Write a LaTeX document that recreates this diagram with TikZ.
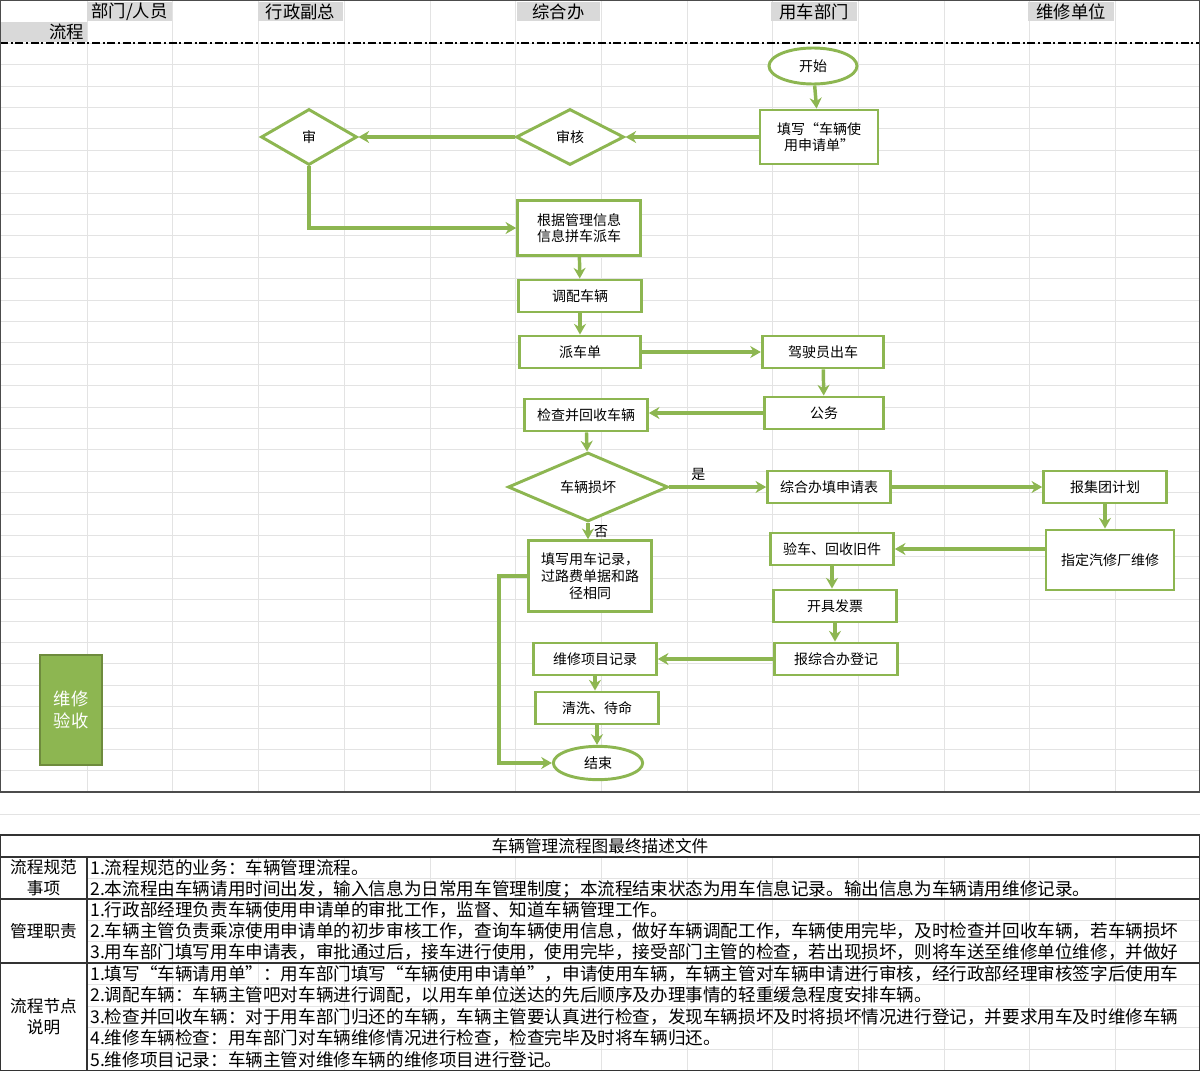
\documentclass[tikz,border=0pt]{standalone}
\usepackage{fontspec}
\setmainfont{Noto Sans CJK SC}
\usepackage{tikz}
\usetikzlibrary{shapes.geometric,arrows.meta}
\definecolor{flowgreen}{HTML}{8DB651}
\definecolor{darkgreen}{HTML}{6E8B3D}
\definecolor{cellgrey}{HTML}{D9D9D9}
\definecolor{gridgrey}{HTML}{E3E3E3}
\tikzstyle{box} = [draw=flowgreen, line width=2.2pt, fill=white, minimum width=92pt, minimum height=24pt, inner sep=1pt, align=center, font=\fontsize{10.5}{12.5}\selectfont]
\tikzstyle{dia} = [draw=flowgreen, line width=2.2pt, fill=white, diamond, inner sep=0pt, font=\fontsize{10.5}{12.5}\selectfont]
\tikzstyle{term} = [draw=flowgreen, line width=2.2pt, fill=white, ellipse, inner sep=0pt, font=\fontsize{10.5}{12.5}\selectfont]
\tikzstyle{arrow} = [draw=flowgreen, line width=2.6pt, -{Stealth[length=8pt,width=9pt]}]
\tikzstyle{head} = [fill=cellgrey, inner sep=0pt, minimum height=14.5pt, font=\fontsize{13}{14}\selectfont]
\tikzstyle{txt} = [anchor=west, inner sep=0pt, font=\fontsize{13.2}{14}\selectfont]
\begin{document}
\begin{tikzpicture}[x=0.75pt, y=-0.75pt]
\useasboundingbox (0,0) rectangle (1200,1071);
% grid of the sheet
\foreach \i in {0,...,34} \draw[gridgrey] (0,{43+21.4*\i}) -- (1200,{43+21.4*\i});
\foreach \i in {0,...,12} \draw[gridgrey] ({87+85.7*\i},0) -- ({87+85.7*\i},792);
\draw[gridgrey] (0,814) -- (1200,814);
% header
\node[head, minimum width=63.5pt] (hdept) at (129.5,11.5) {部门/人员};
\node[head, minimum width=63.5pt] (hvp) at (300.5,11.5) {行政副总};
\node[head, minimum width=62pt] (hoff) at (558.5,11.5) {综合办};
\node[head, minimum width=64pt] (huse) at (814,11.5) {用车部门};
\node[head, minimum width=64pt] (hrep) at (1071,11.5) {维修单位};
\node[head, minimum width=65pt, minimum height=15pt, anchor=north west, align=right, text width=61pt] (hflow) at (0,22) {流程};
\draw[black, line width=0.9pt, dash pattern=on 6pt off 2pt on 1.5pt off 2pt] (0,43) -- (1200,43);
\draw[black!70, line width=1pt] (0,0) rectangle (1200,792);

% flow
\node[term, minimum width=66pt, minimum height=27pt] (start) at (813,66) {开始};
\node[box, minimum width=88.5pt, minimum height=40.5pt] (fill) at (819,137) {填写“车辆使\\用申请单”};
\node[dia, minimum width=81pt, minimum height=42pt] (check) at (570,137) {审核};
\node[dia, minimum width=72pt, minimum height=42pt] (approve) at (309,137) {审};
\node[box, minimum height=41pt] (plan) at (579,228) {根据管理信息\\信息拼车派车};
\node[box] (assign) at (580,296) {调配车辆};
\node[box, minimum width=91pt] (order) at (580,352) {派车单};
\node[box, minimum width=91pt] (driver) at (823,352) {驾驶员出车};
\node[box, minimum width=89pt] (duty) at (824,413) {公务};
\node[box] (collect) at (586,415) {检查并回收车辆};
\node[dia, minimum width=120pt, minimum height=42pt] (damage) at (588,487) {车辆损坏};
\node[box] (apply) at (829,487) {综合办填申请表};
\node[box] (report) at (1105,487) {报集团计划};
\node[box, minimum width=96pt, minimum height=45pt] (garage) at (1110,560) {指定汽修厂维修};
\node[box] (inspect) at (832,549) {验车、回收旧件};
\node[box] (invoice) at (835,606) {开具发票};
\node[box] (register) at (836,659) {报综合办登记};
\node[box, minimum height=53pt] (record) at (590,576) {填写用车记录，\\过路费单据和路\\径相同};
\node[box] (items) at (595,659) {维修项目记录};
\node[box] (wash) at (597,708) {清洗、待命};
\node[term, minimum width=67pt, minimum height=25pt] (end) at (598,763) {结束};
\node[draw=darkgreen, line width=1.5pt, fill=flowgreen, text=white, minimum width=46pt, minimum height=83pt, align=center, font=\fontsize{13}{17}\selectfont] (accept) at (71,710) {维修\\验收};

\draw[arrow] (start) -- (fill);
\draw[arrow] (fill) -- (check);
\draw[arrow] (check) -- (approve);
\draw[arrow] (approve.south) |- (plan.west);
\draw[arrow] (plan) -- (assign);
\draw[arrow] (assign) -- (order);
\draw[arrow] (order) -- (driver);
\draw[arrow] (driver) -- (duty);
\draw[arrow] (duty.west) -- (duty.west -| collect.east);
\draw[arrow] (collect) -- (damage);
\draw[arrow] (damage) -- node[above, font=\fontsize{10.5}{12}\selectfont, text=black, pos=0.3] (yes) {是} (apply);
\draw[arrow] (apply) -- (report);
\draw[arrow] (report) -- (report |- garage.north);
\draw[arrow] (garage.west |- inspect) -- (inspect);
\draw[arrow] (inspect) -- (inspect |- invoice.north);
\draw[arrow] (invoice) -- (invoice |- register.north);
\draw[arrow] (register) -- (items);
\draw[arrow] (items) -- (items |- wash.north);
\draw[arrow] (wash) -- (wash |- end.north);
\draw[arrow] (damage) -- node[right, font=\fontsize{10.5}{12}\selectfont, text=black] (no) {否} (damage |- record.north);
\draw[arrow] (record.west) -- ++(-28,0) |- (end.west);

% description table
\foreach \y in {878,920,941,984,1006,1027,1049} \draw[gridgrey] (87,\y) -- (1200,\y);
\foreach \i in {1,...,12} \draw[gridgrey] ({87+85.7*\i},857) -- ({87+85.7*\i},1071);
\draw[black!80, line width=1pt] (0,835) rectangle (1200,1071);
\draw[black!80, line width=1pt] (0,857) -- (1200,857) (0,899) -- (1200,899) (0,963) -- (1200,963) (87,857) -- (87,1071);
\node[font=\fontsize{12.5}{14}\selectfont] (ttitle) at (600,846) {车辆管理流程图最终描述文件};
\node[align=center, font=\fontsize{12.5}{15.5}\selectfont] (tnorm) at (43.5,878) {流程规范\\事项};
\node[font=\fontsize{12.5}{14}\selectfont] (tduty) at (43.5,931) {管理职责};
\node[align=center, font=\fontsize{12.5}{15.5}\selectfont] (tnode) at (43.5,1017) {流程节点\\说明};
\begin{scope}
\clip (88,857) rectangle (1199,1071);
\node[txt] (n1) at (90,868) {1.流程规范的业务：车辆管理流程。};
\node[txt] (n2) at (90,889) {2.本流程由车辆请用时间出发，输入信息为日常用车管理制度；本流程结束状态为用车信息记录。输出信息为车辆请用维修记录。};
\node[txt] (d1) at (90,910) {1.行政部经理负责车辆使用申请单的审批工作，监督、知道车辆管理工作。};
\node[txt] (d2) at (90,931) {2.车辆主管负责乘凉使用申请单的初步审核工作，查询车辆使用信息，做好车辆调配工作，车辆使用完毕，及时检查并回收车辆，若车辆损坏};
\node[txt] (d3) at (90,952) {3.用车部门填写用车申请表，审批通过后，接车进行使用，使用完毕，接受部门主管的检查，若出现损坏，则将车送至维修单位维修，并做好};
\node[txt] (s1) at (90,974) {1.填写“车辆请用单”：用车部门填写“车辆使用申请单”，申请使用车辆，车辆主管对车辆申请进行审核，经行政部经理审核签字后使用车};
\node[txt] (s2) at (90,995) {2.调配车辆：车辆主管吧对车辆进行调配，以用车单位送达的先后顺序及办理事情的轻重缓急程度安排车辆。};
\node[txt] (s3) at (90,1017) {3.检查并回收车辆：对于用车部门归还的车辆，车辆主管要认真进行检查，发现车辆损坏及时将损坏情况进行登记，并要求用车及时维修车辆};
\node[txt] (s4) at (90,1038) {4.维修车辆检查：用车部门对车辆维修情况进行检查，检查完毕及时将车辆归还。};
\node[txt] (s5) at (90,1060) {5.维修项目记录：车辆主管对维修车辆的维修项目进行登记。};
\end{scope}
\end{tikzpicture}
\end{document}
